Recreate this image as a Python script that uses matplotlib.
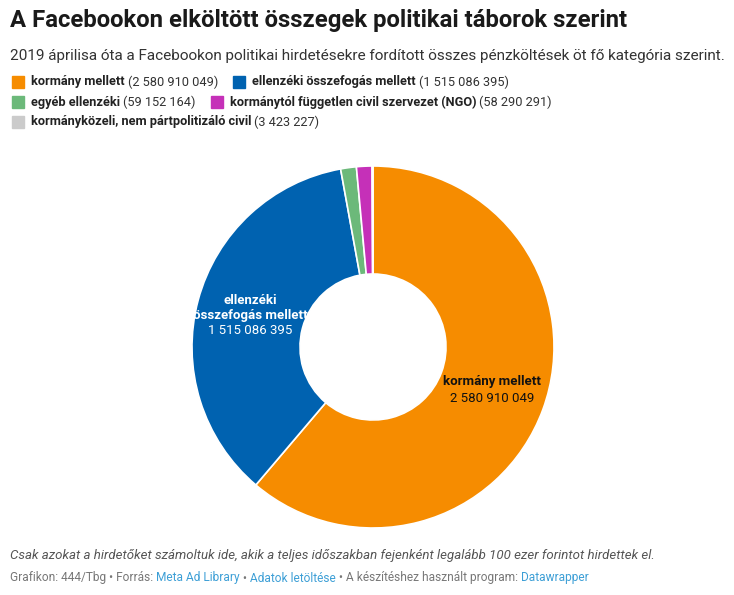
import matplotlib.pyplot as plt
from matplotlib.patches import Rectangle

plt.rcParams['font.family'] = ['Roboto', 'DejaVu Sans']

# data
categories = ['kormány mellett', 'ellenzéki összefogás mellett', 'egyéb ellenzéki',
              'kormánytól független civil szervezet (NGO)', 'kormányközeli, nem pártpolitizáló civil']
values = [2580910049, 1515086395, 59152164, 58290291, 3423227]
value_labels = ['2 580 910 049', '1 515 086 395', '59 152 164', '58 290 291', '3 423 227']
colors = ['#f68c00', '#0062b0', '#6cb97a', '#c530b8', '#cbcbcb']
legend_rows = [[0, 1], [2, 3], [4]]

W, H = 734, 595
fig = plt.figure(figsize=(W / 100, H / 100), dpi=100)

def fx(x):
    return x / W

def fy(y):
    return 1 - y / H

# title + subtitle
fig.text(fx(10), fy(21), 'A Facebookon elköltött összegek politikai táborok szerint',
         fontsize=17.2, fontweight='bold', color='#1a1a1a', va='center', ha='left')
fig.text(fx(10), fy(56), '2019 áprilisa óta a Facebookon politikai hirdetésekre fordított összes pénzköltések öt fő kategória szerint.',
         fontsize=11, color='#333333', va='center', ha='left')

# legend (manual, bold name + normal value)
renderer = fig.canvas.get_renderer()
for r, row in enumerate(legend_rows):
    ly = 82 + r * 20
    lx = 12
    for i in row:
        fig.patches.append(Rectangle((fx(lx), fy(ly + 6)), 12 / W, 12 / H,
                                     transform=fig.transFigure, color=colors[i]))
        t = fig.text(fx(lx + 19), fy(ly), categories[i], fontsize=9.2, fontweight='bold',
                     color='#222222', va='center', ha='left')
        x1 = t.get_window_extent(renderer).x1
        t2 = fig.text(x1 / W + fx(3), fy(ly), '(' + value_labels[i] + ')', fontsize=9.2,
                      color='#333333', va='center', ha='left')
        lx = t2.get_window_extent(renderer).x1 + 15

# donut
cx, cy, r_out, r_in = 373, 347, 181, 73
ax = fig.add_axes([fx(cx - r_out), fy(cy + r_out), 2 * r_out / W, 2 * r_out / H])
ax.pie(values, colors=colors, startangle=90, counterclock=False, radius=1,
       wedgeprops=dict(width=(r_out - r_in) / r_out, edgecolor='white', linewidth=1.2))
ax.set_aspect('equal')
ax.set_xlim(-1, 1)
ax.set_ylim(-1, 1)

# slice labels
fig.text(fx(250), fy(300), 'ellenzéki', fontsize=9.5, fontweight='bold', color='white', ha='center', va='center')
fig.text(fx(250), fy(315), 'összefogás mellett', fontsize=9.5, fontweight='bold', color='white', ha='center', va='center')
fig.text(fx(250), fy(331), value_labels[1], fontsize=9.5, color='white', ha='center', va='center')
fig.text(fx(492), fy(382), categories[0], fontsize=9.5, fontweight='bold', color='#111111', ha='center', va='center')
fig.text(fx(492), fy(398), value_labels[0], fontsize=9.5, color='#111111', ha='center', va='center')

# notes
fig.text(fx(10), fy(556), 'Csak azokat a hirdetőket számoltuk ide, akik a teljes időszakban fejenként legalább 100 ezer forintot hirdettek el.',
         fontsize=9.5, style='italic', color='#555555', va='center', ha='left')
parts = [('Grafikon: 444/Tbg • Forrás: ', '#777777'), ('Meta Ad Library', '#3d9fd6'), (' • ', '#777777'),
         ('Adatok letöltése', '#3d9fd6'), (' • A készítéshez használt program: ', '#777777'),
         ('Datawrapper', '#3d9fd6')]
x = fx(10)
for txt, col in parts:
    t = fig.text(x, fy(578), txt, fontsize=8.55, color=col, va='center', ha='left')
    x = t.get_window_extent(renderer).x1 / W

fig.savefig('out.png', dpi=100)
